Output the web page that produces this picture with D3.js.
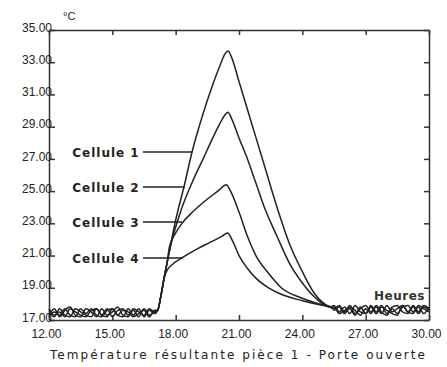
<!DOCTYPE html>
<html>
<head>
<meta charset="utf-8">
<script src="https://cdn.jsdelivr.net/npm/d3@7"></script>
<style>
  body { margin: 0; background: #fff; }
  svg { display: block; }
  .tick text { font-family: "Liberation Sans", sans-serif; font-size: 12px; fill: #222; }
  .domain, .tick line { stroke: #333; stroke-width: 1.5; }
</style>
</head>
<body>
<svg id="chart"></svg>
<script>
// hours and temperatures
const preHours = [12, 12.25, 12.5, 12.75, 13, 13.25, 13.5, 13.75, 14, 14.25, 14.5,
  14.75, 15, 15.25, 15.5, 15.75, 16, 16.25, 16.5, 16.75, 17];
const postHours = [25.5, 25.75, 26, 26.25, 26.5, 26.75, 27, 27.25, 27.5, 27.75,
  28, 28.25, 28.5, 28.75, 29, 29.25, 29.5, 29.75, 30];

const cell1Pre = [17.3, 17.7, 17.2, 17.6, 17.8, 17.3, 17.2, 17.7, 17.5, 17.2, 17.7, 17.3, 17.5, 17.8, 17.3, 17.2, 17.7, 17.5, 17.3, 17.7, 17.5];
const cell2Pre = [17.6, 17.2, 17.7, 17.3, 17.2, 17.7, 17.5, 17.3, 17.2, 17.7, 17.3, 17.7, 17.2, 17.6, 17.7, 17.3, 17.6, 17.2, 17.7, 17.3, 17.5];
const cell3Pre = [17.2, 17.5, 17.3, 17.7, 17.3, 17.2, 17.7, 17.4, 17.7, 17.3, 17.2, 17.6, 17.7, 17.3, 17.2, 17.7, 17.3, 17.7, 17.2, 17.6, 17.4];
const cell4Pre = [17.7, 17.3, 17.5, 17.2, 17.7, 17.5, 17.3, 17.2, 17.6, 17.7, 17.3, 17.2, 17.7, 17.3, 17.6, 17.5, 17.2, 17.4, 17.6, 17.2, 17.6];

// [hour, temp] around the peak
const cell1Peak = [[17.15, 17.6], [17.3, 18.5], [17.45, 19.6], [17.6, 20.6], [17.75, 21.6], [18.0, 23.2],
  [18.4, 25.3], [18.77, 27.4], [19.25, 29.6], [19.7, 31.4], [20.1, 32.8], [20.35, 33.55], [20.48, 33.7],
  [20.65, 33.3], [21.0, 31.8], [21.6, 29.2], [22.2, 26.6], [22.8, 24.0], [23.4, 21.7], [24.0, 20.0],
  [24.6, 18.6], [25.3, 17.8]];
const cell2Peak = [[17.15, 17.6], [17.3, 18.5], [17.45, 19.6], [17.6, 20.6], [17.8, 21.8], [18.2, 23.6],
  [18.8, 25.6], [19.3, 27.0], [19.72, 28.2], [20.1, 29.2], [20.35, 29.75], [20.48, 29.9],
  [20.65, 29.5], [21.0, 28.3], [21.4, 27.0], [21.8, 25.5], [22.2, 24.0], [22.8, 22.2], [23.4, 20.5],
  [24.0, 19.3], [24.6, 18.4], [25.3, 17.8]];
const cell3Peak = [[17.15, 17.6], [17.3, 18.5], [17.45, 19.6], [17.6, 20.6], [17.7, 21.5], [18.0, 22.4],
  [18.3, 23.0], [18.8, 23.7], [19.4, 24.4], [20.0, 25.0], [20.4, 25.4],
  [20.6, 25.0], [21.0, 23.7], [21.4, 22.2], [21.8, 21.0], [22.4, 19.9], [23.0, 19.0], [23.9, 18.4],
  [24.8, 18.0], [25.4, 17.8]];
const cell4Peak = [[17.15, 17.6], [17.3, 18.5], [17.5, 19.8], [17.6, 20.1], [17.8, 20.4], [18.35, 20.9],
  [19.0, 21.4], [19.6, 21.8], [20.2, 22.2], [20.45, 22.4],
  [20.7, 21.9], [21.0, 21.0], [21.4, 20.2], [21.8, 19.6], [22.4, 19.0], [23.0, 18.6], [24.0, 18.2],
  [25.0, 17.9], [25.4, 17.8]];

const cell1Post = [17.7, 17.9, 17.5, 17.9, 17.4, 17.7, 17.9, 17.5, 17.8, 17.4, 17.9, 17.5, 17.7, 17.9, 17.5, 17.4, 17.9, 17.7, 17.5];
const cell2Post = [17.9, 17.5, 17.8, 17.4, 17.9, 17.5, 17.4, 17.9, 17.5, 17.9, 17.4, 17.8, 17.9, 17.5, 17.4, 17.9, 17.5, 17.9, 17.7];
const cell3Post = [17.6, 17.8, 17.4, 17.8, 17.6, 17.3, 17.7, 17.4, 17.9, 17.5, 17.3, 17.7, 17.4, 17.8, 17.9, 17.5, 17.8, 17.4, 17.8];
const cell4Post = [17.8, 17.4, 17.6, 17.7, 17.3, 17.8, 17.4, 17.8, 17.4, 17.8, 17.6, 17.4, 17.3, 17.9, 17.5, 17.8, 17.4, 17.8, 17.6];

const cellNames = ["Cellule 1", "Cellule 2", "Cellule 3", "Cellule 4"];
// label temperature and the hour where each leader meets the curves
const labelTemps = [27.43, 25.25, 23.08, 20.85];
const leaderEnds = [18.77, 18.44, 18.3, 18.35];

const yTicks = [17, 19, 21, 23, 25, 27, 29, 31, 33, 35];
const xTicks = [12, 15, 18, 21, 24, 27, 30];

const width = 447, height = 367;
const margin = { top: 30, right: 18, bottom: 47, left: 49 };

let svg = d3.select("#chart").attr("width", width).attr("height", height);

let x = d3.scaleLinear().domain([12, 30]).range([margin.left, width - margin.right]);
let y = d3.scaleLinear().domain([17, 35]).range([height - margin.bottom, margin.top]);

function buildSeries(pre, peak, post) {
  let pts = preHours.map((h, i) => [h, pre[i]]);
  pts = pts.concat(peak);
  return pts.concat(postHours.map((h, i) => [h, post[i]]));
}

let series = [
  buildSeries(cell1Pre, cell1Peak, cell1Post),
  buildSeries(cell2Pre, cell2Peak, cell2Post),
  buildSeries(cell3Pre, cell3Peak, cell3Post),
  buildSeries(cell4Pre, cell4Peak, cell4Post),
];

// axes: ticks all point inward
let fmt = d3.format(".2f");
let bottomAxis = svg.append("g")
  .attr("transform", `translate(0,${y(17)})`)
  .call(d3.axisBottom(x).tickValues(xTicks).tickFormat(fmt).tickSizeInner(-5).tickSizeOuter(0).tickPadding(9));
bottomAxis.selectAll(".tick text").attr("dx", -3);
svg.append("g")
  .attr("transform", `translate(0,${y(35)})`)
  .call(d3.axisTop(x).tickValues(xTicks).tickFormat("").tickSizeInner(-5).tickSizeOuter(0));
let leftAxis = svg.append("g")
  .attr("transform", `translate(${x(12)},0)`)
  .call(d3.axisLeft(y).tickValues(yTicks).tickFormat(fmt).tickSizeInner(-6).tickSizeOuter(0).tickPadding(-3));
leftAxis.selectAll(".tick text").attr("dy", "0.1em");
svg.append("g")
  .attr("transform", `translate(${x(30)},0)`)
  .call(d3.axisRight(y).tickValues(yTicks).tickFormat("").tickSizeInner(-5).tickSizeOuter(0));

let line = d3.line().x((d) => x(d[0])).y((d) => y(d[1])).curve(d3.curveMonotoneX);

svg.append("g")
  .selectAll("path")
  .data(series)
  .join("path")
  .attr("d", line)
  .attr("fill", "none")
  .attr("stroke", "#222")
  .attr("stroke-width", 1.5)
  .attr("stroke-linejoin", "round");

// leader lines and labels
svg.append("g")
  .selectAll("line")
  .data(labelTemps)
  .join("line")
  .attr("x1", x(16.45))
  .attr("x2", (d, i) => x(leaderEnds[i]))
  .attr("y1", (d) => y(d))
  .attr("y2", (d) => y(d))
  .attr("stroke", "#222")
  .attr("stroke-width", 1.5);

svg.append("g")
  .selectAll("text")
  .data(cellNames)
  .join("text")
  .attr("x", x(13.1))
  .attr("y", (d, i) => y(labelTemps[i]) + 5)
  .attr("font-family", "DejaVu Sans, sans-serif")
  .attr("font-size", 12)
  .attr("font-weight", "bold")
  .attr("letter-spacing", 1)
  .attr("fill", "#222")
  .text((d) => d);

svg.append("text")
  .attr("x", 63)
  .attr("y", 20)
  .attr("font-family", "Liberation Sans, sans-serif")
  .attr("font-size", 11)
  .attr("fill", "#222")
  .text("°C");

svg.append("text")
  .attr("x", 425)
  .attr("y", 300)
  .attr("text-anchor", "end")
  .attr("font-family", "DejaVu Sans, sans-serif")
  .attr("font-size", 12)
  .attr("font-weight", "bold")
  .attr("letter-spacing", 0.5)
  .attr("fill", "#333")
  .text("Heures");

svg.append("text")
  .attr("x", 50)
  .attr("y", 359)
  .attr("textLength", 375)
  .attr("lengthAdjust", "spacing")
  .attr("font-family", "DejaVu Sans, sans-serif")
  .attr("font-size", 12)
  .attr("fill", "#222")
  .text("Température résultante pièce 1 - Porte ouverte");
</script>
</body>
</html>
